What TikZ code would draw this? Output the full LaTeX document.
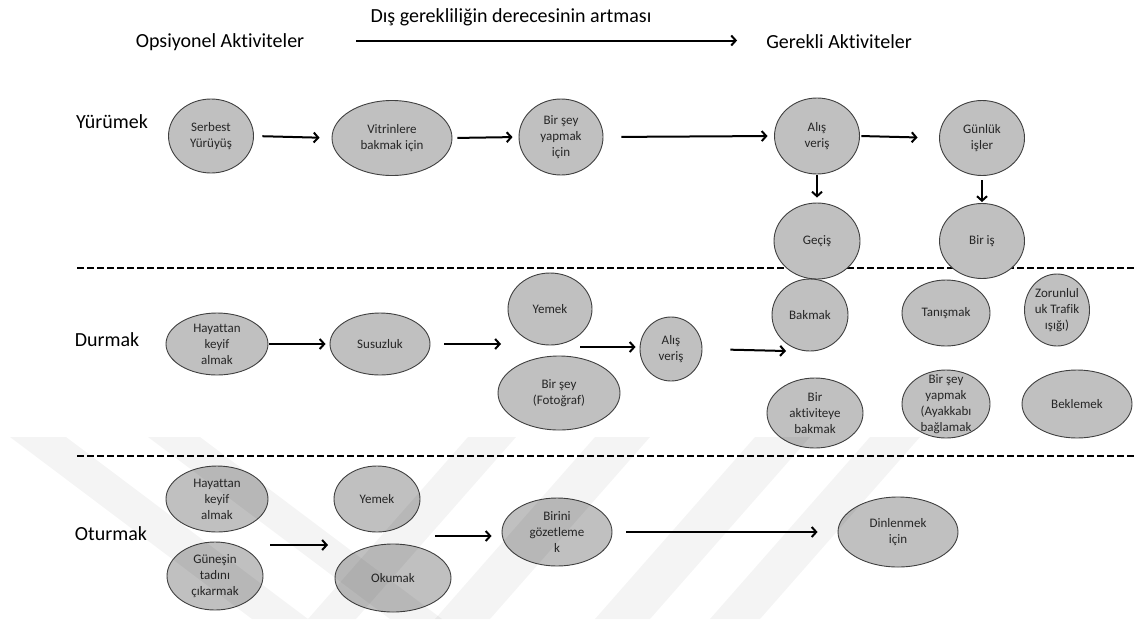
\documentclass[tikz,border=0pt]{standalone}
\usepackage{fontspec}
\setmainfont{Carlito}[Ligatures=NoCommon]
\usetikzlibrary{arrows.meta,shapes.geometric}
\definecolor{actfill}{HTML}{C0C0C0}
\definecolor{actline}{HTML}{404040}
\tikzset{
  actshape/.style={ellipse, draw=actline, fill=actfill, line width=0.9pt, inner sep=0pt},
  acttext/.style={align=center, font=\fontsize{13}{16}\selectfont, text=black!85, inner sep=0pt},
  rowlabel/.style={font=\fontsize{20}{24}\selectfont, inner sep=0pt},
  flow/.style={-{Straight Barb[length=4.5pt,width=10pt]}, line width=2pt},
  sep/.style={dash pattern=on 7pt off 3pt, line width=2pt},
  wmband/.style={fill=black, opacity=0.045},
}
% ellipse with its text: name, x, y, width, height, text
\newcommand\actnode[6]{%
  \node[actshape, minimum width=#4pt, minimum height=#5pt] (#1) at (#2,#3) {};
  \node[acttext] (#1t) at (#1.center) {#6};}

\begin{document}
\begin{tikzpicture}[x=1pt,y=-1pt]
\useasboundingbox (0,0) rectangle (1134,619);

% headings
\node[rowlabel] (scale) at (511,17) {Dış gerekliliğin derecesinin artması};
\node[rowlabel] (opt) at (220,42) {Opsiyonel Aktiviteler};
\node[rowlabel] (req) at (839,42) {Gerekli Aktiviteler};
\draw[flow, shorten <=52pt, shorten >=29pt] ([yshift=1.5pt]opt.east) -- ([yshift=1.5pt]req.west);

% row labels
\node[rowlabel] (walk) at (112,122) {Yürümek};
\node[rowlabel] (stand) at (107,340) {Durmak};
\node[rowlabel] (sit) at (111,534) {Oturmak};

% separators
\coordinate (s1a) at (77,268);  \coordinate (s1b) at (1134,268);
\coordinate (s2a) at (77,456);  \coordinate (s2b) at (1134,456);
\draw[sep] (s1a) -- (s1b);
\draw[sep] (s2a) -- (s2b);

% walking
\actnode{y1}{211}{136}{85}{74}{Serbest\\Yürüyüş}
\actnode{y2}{392}{138}{120}{75}{Vitrinlere\\bakmak için}
\actnode{y3}{561}{137}{84}{76}{Bir şey\\yapmak\\için}
\actnode{y4}{817}{136}{85}{76}{Alış\\veriş}
\actnode{y5}{982}{138}{85}{75}{Günlük\\işler}
\actnode{y6}{817}{241}{86}{76}{Geçiş}
\actnode{y7}{982}{241}{85}{75}{Bir iş}

\draw[flow, shorten <=8.5pt, shorten >=12pt] (y1.east) -- (y2.west);
\draw[flow, shorten <=5pt, shorten >=6pt] (y2.east) -- (y3.west);
\draw[flow, shorten <=18pt, shorten >=6.5pt] (y3.east) -- (y4.west);
\draw[flow, shorten <=1.5pt, shorten >=21.5pt] (y4.east) -- (y5.west);
\draw[flow, shorten <=1pt, shorten >=5pt] (y4.south) -- (y6.north);
\draw[flow, shorten <=4.5pt, shorten >=1pt] (y5.south) -- (y7.north);

% standing
\actnode{d1}{217}{344}{102}{62}{Hayattan\\keyif\\almak}
\actnode{d2}{380}{344}{100}{62}{Susuzluk}
\actnode{d3}{550}{309}{84}{72}{Yemek}
\actnode{d4}{559}{393}{122}{74}{Bir şey\\(Fotoğraf)}
\actnode{d5}{671}{349}{62}{64}{Alış\\veriş}
\actnode{d6}{810}{315}{76}{72}{Bakmak}
\actnode{d7}{946}{313}{88}{66}{Tanışmak}
\actnode{d8}{1057}{310}{65}{72}{Zorunlul\\uk Trafik\\ışığı)}
\actnode{d9}{815}{413}{96}{70}{Bir\\aktiviteye\\bakmak}
\actnode{d10}{946}{404}{88}{68}{Bir şey\\yapmak\\(Ayakkabı\\bağlamak}
\actnode{d11}{1077}{404}{110}{68}{Beklemek}

\coordinate (g1) at (501,344);
\coordinate (g2) at (580,347);
\coordinate (g3) at (786,351);
\draw[flow, shorten <=1pt, shorten >=4pt] (d1.east) -- (d2.west);
\draw[flow, shorten <=14pt] (d2.east) -- (g1);
\draw[flow, shorten >=4pt] (g2) -- (g2 -| d5.west);
\draw[flow, shorten <=28pt] (d5.east) -- (g3);

% sitting
\actnode{o1}{217}{499}{102}{66}{Hayattan\\keyif\\almak}
\actnode{o2}{215}{576}{96}{68}{Güneşin\\tadını\\çıkarmak}
\actnode{o3}{377}{499}{86}{66}{Yemek}
\actnode{o4}{393}{578}{116}{68}{Okumak}
\actnode{o5}{557}{532}{110}{68}{Birini\\gözetleme\\k}
\actnode{o6}{898}{532}{120}{70}{Dinlenmek\\için}

\coordinate (g4) at (270,545);
\coordinate (g5) at (328,545);
\coordinate (g6) at (435,536);
\draw[flow] (g4) -- (g5);
\draw[flow, shorten >=10pt] (g6) -- (g6 -| o5.west);
\draw[flow, shorten <=14pt, shorten >=20pt] (o5.east) -- (o6.west);

% faint background chevrons
\fill[wmband] (10,437) -- (66,437) -- (308,619) -- (252,619) -- cycle;
\fill[wmband] (148,437) -- (200,437) -- (442,619) -- (390,619) -- cycle;
\fill[wmband] (468,437) -- (516,437) -- (356,619) -- (308,619) -- cycle;
\fill[wmband] (595,437) -- (650,437) -- (490,619) -- (435,619) -- cycle;
\fill[wmband] (755,437) -- (810,437) -- (650,619) -- (595,619) -- cycle;
\fill[wmband] (870,437) -- (920,437) -- (760,619) -- (710,619) -- cycle;
\end{tikzpicture}
\end{document}
